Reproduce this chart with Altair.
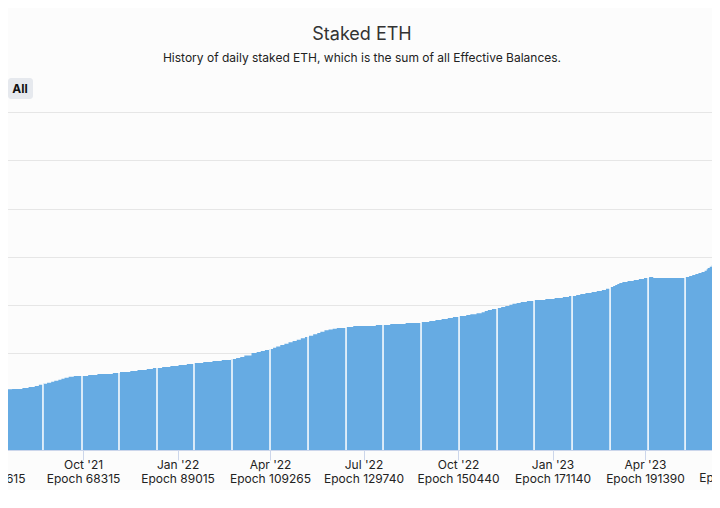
import altair as alt
import pandas as pd

# Step boundaries (UTC dates) and staked ETH (millions)
step_dates = [
    "2021-07-13", "2021-07-17", "2021-07-19", "2021-07-24", "2021-08-03", "2021-08-09",
    "2021-08-15", "2021-08-19", "2021-08-23", "2021-08-27", "2021-08-31", "2021-09-03",
    "2021-09-07", "2021-09-10", "2021-09-13", "2021-09-17", "2021-09-22", "2021-10-06",
    "2021-10-15", "2021-10-30", "2021-11-06", "2021-11-16", "2021-11-23", "2021-12-02",
    "2021-12-08", "2021-12-17", "2021-12-25", "2022-01-02", "2022-01-10", "2022-01-17",
    "2022-01-26", "2022-02-04", "2022-02-13", "2022-02-22", "2022-02-27", "2022-03-03",
    "2022-03-07", "2022-03-14", "2022-03-19", "2022-03-23", "2022-03-27", "2022-03-31",
    "2022-04-04", "2022-04-07", "2022-04-11", "2022-04-15", "2022-04-19", "2022-04-23",
    "2022-04-27", "2022-05-01", "2022-05-05", "2022-05-09", "2022-05-13", "2022-05-17",
    "2022-05-20", "2022-05-24", "2022-05-28", "2022-06-01", "2022-06-05", "2022-06-14",
    "2022-06-21", "2022-07-13", "2022-07-27", "2022-08-11", "2022-08-26", "2022-09-03",
    "2022-09-09", "2022-09-15", "2022-09-21", "2022-09-26", "2022-10-02", "2022-10-09",
    "2022-10-13", "2022-10-19", "2022-10-24", "2022-10-27", "2022-10-30", "2022-11-03",
    "2022-11-08", "2022-11-12", "2022-11-16", "2022-11-20", "2022-11-23", "2022-11-27",
    "2022-12-01", "2022-12-07", "2022-12-14", "2022-12-25", "2023-01-03", "2023-01-11",
    "2023-01-17", "2023-01-24", "2023-01-28", "2023-02-02", "2023-02-08", "2023-02-13",
    "2023-02-18", "2023-02-22", "2023-02-26", "2023-03-01", "2023-03-03", "2023-03-05",
    "2023-03-07", "2023-03-10", "2023-03-15", "2023-03-21", "2023-03-26", "2023-03-31",
    "2023-04-05", "2023-04-09", "2023-05-10", "2023-05-14", "2023-05-17", "2023-05-20",
    "2023-05-23", "2023-05-26", "2023-05-29", "2023-05-31", "2023-06-01", "2023-06-03",
    "2023-06-05", "2023-06-08", "2023-06-11", "2023-06-14",
]
staked_m = [
    6.11, 6.21, 6.28, 6.31, 6.42, 6.52,
    6.63, 6.76, 6.86, 6.97, 7.07, 7.17,
    7.28, 7.38, 7.48, 7.59, 7.66, 7.76,
    7.87, 7.97, 8.07, 8.18, 8.28, 8.39,
    8.49, 8.59, 8.70, 8.80, 8.90, 9.01,
    9.11, 9.21, 9.32, 9.42, 9.52, 9.63,
    9.78, 10.04, 10.14, 10.25, 10.35, 10.46,
    10.59, 10.73, 10.87, 11.00, 11.15, 11.28,
    11.42, 11.56, 11.70, 11.83, 11.98, 12.11,
    12.25, 12.39, 12.49, 12.56, 12.63, 12.73,
    12.84, 12.94, 13.04, 13.15, 13.25, 13.35,
    13.46, 13.56, 13.66, 13.77, 13.87, 13.98,
    14.05, 14.15, 14.26, 14.39, 14.49, 14.60,
    14.70, 14.80, 14.91, 15.04, 15.15, 15.22,
    15.32, 15.42, 15.53, 15.63, 15.74, 15.84,
    15.94, 16.05, 16.15, 16.25, 16.36, 16.46,
    16.56, 16.70, 16.87, 16.98, 17.08, 17.18,
    17.29, 17.39, 17.50, 17.60, 17.70, 17.81,
    17.91, 17.81, 17.91, 18.01, 18.12, 18.22,
    18.32, 18.43, 18.56, 18.71, 18.84, 18.98,
    19.12, 19.25, 19.39, 19.39,
]

# White separators between column groups
gap_dates = [
    "2021-07-18", "2021-08-23", "2021-09-30", "2021-11-05", "2021-12-12", "2022-01-17",
    "2022-02-23", "2022-04-01", "2022-05-08", "2022-06-14", "2022-07-20", "2022-08-26",
    "2022-10-02", "2022-11-08", "2022-12-14", "2023-01-20", "2023-02-26", "2023-04-04",
    "2023-05-10",
]
gap_heights = [
    6.21, 6.86, 7.66, 8.07, 8.49, 9.01,
    9.42, 10.46, 11.70, 12.73, 12.94, 13.25,
    13.87, 14.70, 15.53, 15.94, 16.87, 17.81,
    17.91,
]
gap_base = [0] * len(gap_dates)

# x-axis ticks (quarter starts) and their epoch labels
tick_years = [2021, 2021, 2022, 2022, 2022, 2022, 2023, 2023]
tick_months = [7, 10, 1, 4, 7, 10, 1, 4]
tick_epochs = ["47615", "68315", "89015", "109265", "129740", "150440", "171140", "191390"]
# the next tick, just past the right edge of the visible plot
edge_tick_date = ["2023-07-01"]
edge_tick_label = ["Jul '23\nEpoch 211865"]

y_grid = [5, 10, 15, 20, 25, 30, 35]

df = pd.DataFrame({"date": step_dates, "staked": staked_m})
gaps = pd.DataFrame({"date": gap_dates, "top": gap_heights, "base": gap_base})
edge = pd.DataFrame({"date": edge_tick_date, "label": edge_tick_label})
btn = pd.DataFrame({"label": ["All"]})

epoch_expr = "''"
for yy, mm, ep in zip(tick_years, tick_months, tick_epochs):
    key = yy * 12 + (mm - 1)
    epoch_expr = f"(utcyear(datum.value)*12+utcmonth(datum.value)=={key} ? '{ep}' : {epoch_expr})"
label_expr = f"[utcFormat(datum.value, \"%b '%y\"), 'Epoch ' + {epoch_expr}]"

x_scale = alt.Scale(
    type="utc",
    domain=[alt.DateTime(year=2021, month=6, date=30, hours=12, utc=True),
            alt.DateTime(year=2023, month=6, date=5, hours=5, utc=True)],
)
y_scale = alt.Scale(domain=[0, 35], nice=False, zero=True)

x_axis = alt.Axis(
    values=[alt.DateTime(year=yy, month=mm, date=1, utc=True) for yy, mm in zip(tick_years, tick_months)],
    labelExpr=label_expr,
    title=None,
    grid=False,
    tickSize=10,
    tickColor="#ccd6eb",
    domainColor="#ccd6eb",
    labelFlush=False,
    labelOverlap=False,
    labelFont="Inter",
    labelFontSize=12,
    labelColor="#222222",
    labelLineHeight=14,
    labelPadding=-1,
    zindex=1,
)
y_axis = alt.Axis(
    values=y_grid, grid=True, labels=False, ticks=False, domain=False, title=None,
    gridColor="#e6e6e6", gridWidth=1,
)

area = alt.Chart(df).mark_area(interpolate="step-after", color="#66abe3", clip=True).encode(
    x=alt.X("date:T", scale=x_scale, axis=x_axis),
    y=alt.Y("staked:Q", scale=y_scale, axis=y_axis),
)

rules = alt.Chart(gaps).mark_rule(color="white", strokeWidth=1.5).encode(
    x="date:T",
    y="top:Q",
    y2="base:Q",
)

edge_label = alt.Chart(edge).mark_text(
    font="Inter", fontSize=12, color="#222222", align="center", baseline="top",
    lineBreak="\n", lineHeight=14,
).encode(x="date:T", y=alt.value(347), text="label:N")

button_bg = alt.Chart(btn).mark_rect(color="#e6e9ee", cornerRadius=3).encode(
    x=alt.value(20), x2=alt.value(45), y=alt.value(-34), y2=alt.value(-13),
)
button_txt = alt.Chart(btn).mark_text(
    font="Inter", fontSize=12, fontWeight="bold", color="#111111", align="center", baseline="middle"
).encode(text="label:N", x=alt.value(32), y=alt.value(-23))

chart = alt.layer(area, rules, edge_label, button_bg, button_txt).properties(
    width=724,
    height=338,
    autosize=alt.AutoSizeParams(type="none"),
    padding={"left": -20, "top": 104, "right": 0, "bottom": 40},
    background="#fcfcfc",
    title=alt.TitleParams(
        text="Staked ETH",
        subtitle="History of daily staked ETH, which is the sum of all Effective Balances.",
        font="Inter", fontSize=18, fontWeight="normal", color="#333333",
        subtitleFont="Inter", subtitleFontSize=12, subtitleColor="#222222",
        anchor="middle", offset=14, subtitlePadding=9, dx=12,
    ),
).configure_view(stroke=None)

chart.save("out.html", embed_options={"renderer": "svg", "actions": False})
